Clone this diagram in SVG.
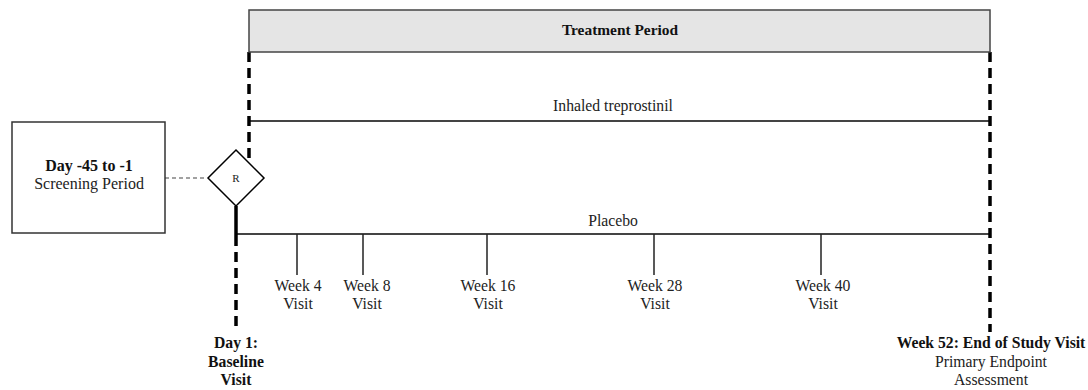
<svg xmlns="http://www.w3.org/2000/svg" width="1088" height="390" viewBox="0 0 1088 390">
<style>
text{font-family:"Liberation Serif","DejaVu Serif",serif;font-size:15.7px;fill:#222;text-anchor:middle}
.b{font-weight:bold;fill:#111}
.bar{stroke:#444;stroke-width:2;fill:none}
.tick{stroke:#222;stroke-width:1.5}
.dash{stroke:#000;stroke-width:3.5;stroke-dasharray:10 6;fill:none}
</style>
<rect width="1088" height="390" fill="#fff"/>
<g id="connectors">
<line class="bar" x1="249" y1="121" x2="990" y2="121"/>
<line class="bar" x1="236" y1="234" x2="990" y2="234"/>
<line x1="165" y1="178" x2="207" y2="178" stroke="#444" stroke-width="1.2" stroke-dasharray="4 3"/>
<line x1="236" y1="206" x2="236" y2="236" stroke="#000" stroke-width="3.5"/>
<path class="dash" d="M236 236V332"/>
<path class="dash" d="M249 52V160"/>
<path class="dash" d="M990 52V332"/>
<line class="tick" x1="297" y1="234" x2="297" y2="275"/>
<line class="tick" x1="363" y1="234" x2="363" y2="275"/>
<line class="tick" x1="487" y1="234" x2="487" y2="275"/>
<line class="tick" x1="654" y1="234" x2="654" y2="275"/>
<line class="tick" x1="821" y1="234" x2="821" y2="275"/>
</g>
<g id="treatment">
<rect x="249" y="10" width="741" height="42" fill="#e5e5e5" stroke="#444" stroke-width="1.5"/>
<text class="b" x="620" y="35" style="font-size:15.4px">Treatment Period</text>
</g>
<g id="arm-treprostinil"><text x="613" y="111">Inhaled treprostinil</text></g>
<g id="arm-placebo"><text x="613" y="226">Placebo</text></g>
<g id="screening">
<rect x="12" y="122" width="153" height="111" fill="#fff" stroke="#333" stroke-width="1.5"/>
<text class="b" x="89" y="171" style="font-size:16px">Day -45 to -1</text>
<text x="89" y="189" style="font-size:16px">Screening Period</text>
</g>
<g id="randomization">
<polygon points="236,150 264,178 236,206 208,178" fill="#fff" stroke="#000" stroke-width="1.5"/>
<text x="236" y="182" style="font-size:11px">R</text>
</g>
<g id="w4"><text x="298" y="291">Week 4</text><text x="298" y="309">Visit</text></g>
<g id="w8"><text x="367" y="291">Week 8</text><text x="367" y="309">Visit</text></g>
<g id="w16"><text x="488" y="291">Week 16</text><text x="488" y="309">Visit</text></g>
<g id="w28"><text x="655" y="291">Week 28</text><text x="655" y="309">Visit</text></g>
<g id="w40"><text x="823" y="291">Week 40</text><text x="823" y="309">Visit</text></g>
<g id="day1">
<text class="b" x="236" y="348">Day 1:</text>
<text class="b" x="236" y="367">Baseline</text>
<text class="b" x="236" y="385">Visit</text>
</g>
<g id="week52">
<text class="b" x="991" y="348">Week 52: End of Study Visit</text>
<text x="991" y="367">Primary Endpoint</text>
<text x="991" y="385">Assessment</text>
</g>
</svg>
